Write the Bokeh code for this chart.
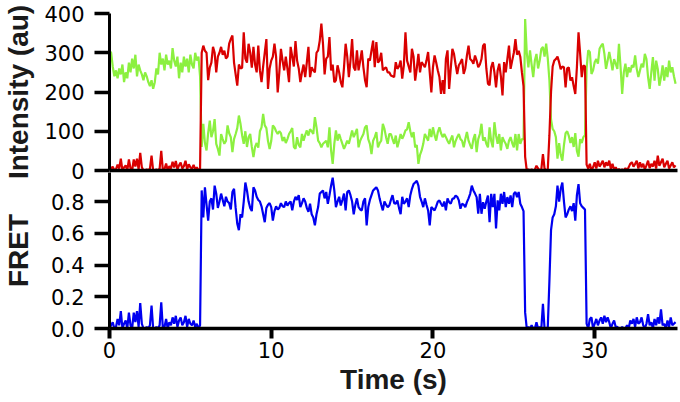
from bokeh.plotting import figure
from bokeh.models import Range1d, FixedTicker, NumeralTickFormatter
from bokeh.layouts import column
from bokeh.embed import file_html
from bokeh.resources import INLINE

sample_step_s = 0.1

acceptor_red = [
    0, 5, 10, 0, 3, 15, 5, 30, 0, 8,
    13, 0, 28, 5, 0, 28, 10, 30, 3, 45,
    8, 0, 0, 3, 0, 5, 38, 0, 0, 3,
    0, 5, 50, 0, 3, 18, 0, 11, 5, 22,
    8, 24, 3, 13, 20, 5, 11, 25, 3, 16,
    8, 5, 14, 3, 8, 0, 5,
    300, 318, 305, 300, 230, 262, 275, 315, 300, 250,
    290, 300, 315, 295, 305, 285, 290, 323, 335, 344,
    275, 245, 216, 270, 260, 262, 352, 285, 275, 323,
    300, 262, 315, 270, 250, 318, 255, 225, 265, 300,
    335, 208, 260, 280, 290, 323, 290, 199, 250, 310,
    280, 255, 290, 260, 225, 315, 290, 265, 330, 280,
    260, 225, 250, 270, 238, 275, 315, 238, 263, 255,
    250, 300, 306, 331, 374, 323, 245, 285, 290, 340,
    255, 270, 225, 230, 268, 250, 225, 212, 263, 323,
    290, 238, 280, 335, 263, 255, 306, 255, 280, 306,
    263, 230, 212, 285, 280, 306, 331, 263, 327, 275,
    280, 300, 255, 260, 263, 250,
    250, 242, 240, 238, 276, 259, 265, 280, 234, 268,
    352, 280, 265, 250, 310, 290, 229, 260, 297, 250,
    276, 270, 263, 280, 302, 250, 199, 263, 293, 275,
    255, 238, 195, 230, 195, 284, 306, 208, 260, 310,
    297, 270, 246, 268, 275, 284, 246, 260, 293, 318,
    284, 280, 272, 293, 280, 263, 270, 284, 318,
    323, 260, 221, 217, 263, 276, 250, 212, 255, 272,
    240, 191, 276, 250, 284, 318, 259, 280, 300, 335,
    295, 305, 290, 250, 215,
    35, 0, 3, 0, 3, 0, 2, 12, 5, 0,
    3, 42, 5, 0, 3, 90, 200,
    265, 280, 284, 290, 276, 258, 265, 263, 212, 260,
    263, 229, 238, 215, 195, 263, 352, 297, 238, 268, 265,
    15, 5, 17, 0, 8, 21, 5, 25, 10, 17,
    25, 8, 21, 12, 25, 4, 17, 2, 8, 0,
    4, 0, 3, 0, 6, 0, 8, 17, 21, 10,
    17, 25, 5, 21, 8, 17, 3, 13, 25, 6,
    17, 10, 25, 5, 38, 12, 21, 30, 8, 17,
    25, 5, 13, 21, 8, 13,
]

donor_green = [
    305, 300, 265, 240, 255, 235, 260, 245, 270, 225,
    250, 235, 275, 250, 285, 260, 295, 240, 270, 255,
    245, 230, 250, 240, 225, 215, 230, 208, 225, 260,
    245, 300, 270, 285, 255, 295, 270, 280, 260, 312,
    280, 265, 290, 235, 275, 250, 290, 265, 285, 250,
    295, 270, 260, 300, 280, 290, 240,
    60, 119, 70, 51, 95, 127, 85, 100, 131, 68,
    55, 38, 93, 80, 68, 75, 115, 95, 85, 47,
    80, 93, 108, 140, 119, 90, 68, 100, 60, 85,
    93, 60, 34, 60, 70, 58, 100, 110, 144, 115,
    108, 75, 55, 75, 115, 110, 100, 93, 100, 95,
    75, 85, 70, 80, 93, 100, 108, 60, 55, 85,
    65, 59, 93, 76, 90, 102, 89, 105, 100, 93,
    136, 110, 76, 70, 59, 68, 72, 76, 59, 110,
    51, 17, 68, 102, 76, 93, 80, 68, 55, 65,
    76, 68, 85, 102, 85, 95, 106, 59, 76, 85,
    93, 110, 115, 80, 68, 42, 76, 85, 98, 59,
    70, 76, 119, 106, 85, 68,
    93, 93, 80, 68, 89, 59, 75, 93, 81, 90,
    102, 105, 123, 100, 85, 98, 59, 65, 17, 40,
    51, 68, 93, 85, 76, 106, 85, 110, 90, 76,
    98, 110, 95, 85, 93, 85, 76, 68, 80, 89,
    59, 75, 85, 93, 80, 76, 59, 80, 98, 76,
    65, 55, 80, 93, 47, 80, 93, 119, 76,
    85, 68, 59, 110, 75, 59, 123, 90, 68, 93,
    51, 85, 75, 68, 55, 76, 85, 70, 59, 93,
    51, 93, 68, 80, 80,
    386, 300, 263, 306, 270, 238, 280, 297, 260, 280,
    310, 315, 290, 323, 285, 230, 130,
    106, 100, 85, 30, 70, 40, 25, 65, 95, 100,
    88, 70, 85, 60, 95, 50, 35, 80, 70, 85, 90,
    260, 306, 302, 246, 255, 276, 284, 272, 310, 318,
    323, 297, 259, 280, 302, 280, 255, 284, 272, 259,
    323, 263, 195, 250, 272, 238, 263, 250, 268, 263,
    293, 259, 238, 255, 272, 263, 297, 284, 238, 208,
    250, 289, 229, 280, 259, 216, 238, 268, 229, 263,
    238, 280, 250, 263, 240, 221,
]

fret_efficiency = [
    0.00, 0.02, 0.04, 0.00, 0.01, 0.06, 0.02, 0.11, 0.00, 0.03,
    0.05, 0.00, 0.10, 0.02, 0.00, 0.10, 0.04, 0.11, 0.01, 0.16,
    0.03, 0.00, 0.00, 0.01, 0.00, 0.02, 0.145, 0.00, 0.00, 0.01,
    0.00, 0.02, 0.165, 0.00, 0.01, 0.06, 0.00, 0.04, 0.02, 0.07,
    0.03, 0.08, 0.01, 0.05, 0.07, 0.02, 0.04, 0.08, 0.01, 0.06,
    0.03, 0.02, 0.05, 0.01, 0.03, 0.00, 0.02,
    0.87, 0.70, 0.89, 0.78, 0.68, 0.80, 0.82, 0.75, 0.90, 0.85,
    0.76, 0.80, 0.85, 0.81, 0.77, 0.83, 0.80, 0.79, 0.75, 0.86,
    0.88, 0.76, 0.66, 0.62, 0.72, 0.70, 0.80, 0.92, 0.87, 0.80,
    0.76, 0.74, 0.89, 0.87, 0.83, 0.81, 0.80, 0.77, 0.72, 0.67,
    0.76, 0.78, 0.79, 0.765, 0.68, 0.74, 0.77, 0.75, 0.76, 0.79,
    0.77, 0.765, 0.80, 0.775, 0.79, 0.80, 0.744, 0.80, 0.83, 0.81,
    0.84, 0.765, 0.79, 0.82, 0.80, 0.76, 0.735, 0.786, 0.72, 0.70,
    0.65, 0.72, 0.765, 0.85, 0.86, 0.87, 0.82, 0.86, 0.786, 0.84,
    0.90, 0.95, 0.87, 0.765, 0.80, 0.83, 0.775, 0.81, 0.85, 0.744,
    0.86, 0.87, 0.84, 0.80, 0.72, 0.78, 0.82, 0.765, 0.75, 0.744,
    0.80, 0.82, 0.65, 0.765, 0.81, 0.84, 0.87, 0.88, 0.89, 0.87,
    0.82, 0.78, 0.744, 0.80, 0.78, 0.765,
    0.775, 0.81, 0.84, 0.79, 0.786, 0.807, 0.76, 0.72, 0.83, 0.786,
    0.80, 0.82, 0.765, 0.84, 0.88, 0.91, 0.92, 0.93, 0.90, 0.83,
    0.80, 0.765, 0.82, 0.78, 0.744, 0.65, 0.765, 0.755, 0.744, 0.77,
    0.80, 0.807, 0.786, 0.77, 0.80, 0.744, 0.82, 0.796, 0.786, 0.817,
    0.82, 0.838, 0.83, 0.807, 0.755, 0.786, 0.78, 0.765, 0.796, 0.82,
    0.849, 0.90, 0.87, 0.85, 0.828, 0.723, 0.849, 0.723, 0.796,
    0.755, 0.80, 0.838, 0.67, 0.849, 0.765, 0.849, 0.63, 0.807, 0.744,
    0.849, 0.786, 0.86, 0.765, 0.828, 0.786, 0.838, 0.765, 0.849, 0.86,
    0.828, 0.86, 0.786, 0.765, 0.74,
    0.10, 0.00, 0.01, 0.00, 0.02, 0.00, 0.00, 0.04, 0.00, 0.01,
    0.00, 0.155, 0.00, 0.00, 0.01, 0.30, 0.62,
    0.70, 0.72, 0.77, 0.90, 0.80, 0.88, 0.92, 0.80, 0.70, 0.72,
    0.75, 0.77, 0.74, 0.79, 0.68, 0.84, 0.91, 0.79, 0.77, 0.76, 0.75,
    0.03, 0.00, 0.06, 0.07, 0.00, 0.03, 0.06, 0.02, 0.05, 0.07,
    0.03, 0.08, 0.04, 0.07, 0.04, 0.00, 0.03, 0.05, 0.01, 0.01,
    0.00, 0.00, 0.01, 0.00, 0.00, 0.02, 0.00, 0.05, 0.03, 0.06,
    0.01, 0.07, 0.03, 0.04, 0.07, 0.02, 0.00, 0.03, 0.09, 0.02,
    0.04, 0.00, 0.06, 0.02, 0.07, 0.03, 0.12, 0.02, 0.03, 0.00,
    0.05, 0.01, 0.07, 0.02, 0.03, 0.04,
]

time_ticks = [0, 10, 20, 30]
intensity_ticks = [0, 100, 200, 300, 400]
fret_ticks = [0.0, 0.2, 0.4, 0.6, 0.8]


def sample_times(series):
    return [round(i * sample_step_s, 1) for i in range(len(series))]


TICK_FONT = "DejaVu Sans"
LABEL_FONT = "Liberation Sans"
RED = "#d90000"
GREEN = "#8cf040"
BLUE = "#0000f0"

x_range = Range1d(0, 35.12)


def style_y_axis(ax, ticks, standoff, label):
    ax.ticker = FixedTicker(ticks=ticks)
    ax.axis_line_width = 3
    ax.axis_line_color = "black"
    ax.major_tick_line_width = 3.5
    ax.major_tick_line_color = "black"
    ax.major_tick_out = 15
    ax.major_tick_in = 0
    ax.minor_tick_out = 0
    ax.minor_tick_in = 0
    ax.major_label_standoff = 10
    ax.major_label_text_font = TICK_FONT
    ax.major_label_text_font_size = "21px"
    ax.major_label_text_color = "black"
    ax.axis_label = label
    ax.axis_label_text_font = LABEL_FONT
    ax.axis_label_text_font_style = "bold"
    ax.axis_label_text_font_size = "28px"
    ax.axis_label_text_color = "#1a1a1a"
    ax.axis_label_standoff = standoff


# ---------------- top panel: intensities ----------------
# frame spans y = 13 ... 170 on the page; extra bottom border keeps the "0" label whole
p1 = figure(width=680, height=185, x_range=x_range, y_range=Range1d(0, 400),
            output_backend="svg", toolbar_location=None, title=None,
            min_border_left=107, min_border_right=3, min_border_top=13,
            min_border_bottom=15)
p1.outline_line_color = None
p1.grid.visible = False

p1.line(sample_times(donor_green), donor_green, line_color=GREEN, line_width=2.2)
p1.line(sample_times(acceptor_red), acceptor_red, line_color=RED, line_width=2.2)

style_y_axis(p1.yaxis[0], intensity_ticks, 7, "Intensity (au)")
p1.yaxis[0].bounds = (0, 400)

xa1 = p1.xaxis[0]
xa1.ticker = FixedTicker(ticks=[])
xa1.axis_line_width = 3.5
xa1.axis_line_color = "black"
xa1.major_tick_out = 0
xa1.major_tick_in = 0
xa1.minor_tick_out = 0
xa1.minor_tick_in = 0
xa1.major_label_standoff = 0
xa1.major_label_text_font_size = "0px"

# ---------------- bottom panel: FRET ----------------
# overlaps the top panel's bottom border (transparent), frame spans y = 172 ... 328
p2 = figure(width=680, height=230, x_range=x_range, y_range=Range1d(0, 156 / 158.7),
            output_backend="svg", toolbar_location=None, title=None,
            min_border_left=107, min_border_right=3, min_border_top=0,
            min_border_bottom=74, margin=(-13, 0, 0, 0))
p2.outline_line_color = None
p2.grid.visible = False
p2.background_fill_alpha = 0
p2.border_fill_alpha = 0

p2.line(sample_times(fret_efficiency), fret_efficiency, line_color=BLUE, line_width=2.2)

style_y_axis(p2.yaxis[0], fret_ticks, 14, "FRET")
p2.yaxis[0].formatter = NumeralTickFormatter(format="0.0")

xa2 = p2.xaxis[0]
xa2.ticker = FixedTicker(ticks=time_ticks)
xa2.axis_line_width = 3.5
xa2.axis_line_color = "black"
xa2.major_tick_line_width = 4
xa2.major_tick_line_color = "black"
xa2.major_tick_out = 10
xa2.major_tick_in = 0
xa2.minor_tick_out = 0
xa2.minor_tick_in = 0
xa2.major_label_standoff = 3
xa2.major_label_text_font = TICK_FONT
xa2.major_label_text_font_size = "21px"
xa2.major_label_text_color = "black"
xa2.axis_label = "Time (s)"
xa2.axis_label_text_font = LABEL_FONT
xa2.axis_label_text_font_style = "bold"
xa2.axis_label_text_font_size = "28px"
xa2.axis_label_text_color = "#1a1a1a"
xa2.axis_label_standoff = 3

layout = column(p1, p2, spacing=0)

open("out.html", "w").write(file_html(layout, INLINE))
